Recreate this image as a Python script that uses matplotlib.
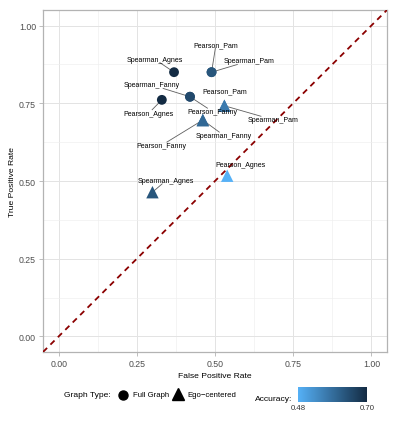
import numpy as np
import matplotlib
matplotlib.use("Agg")
import matplotlib.pyplot as plt
from matplotlib.colors import LinearSegmentedColormap, Normalize
from matplotlib.lines import Line2D

plt.rcParams['font.family'] = ['Liberation Sans', 'DejaVu Sans']

# data
methods = ["Pearson_Agnes", "Spearman_Agnes", "Pearson_Fanny",
           "Spearman_Fanny", "Pearson_Pam", "Spearman_Pam"] * 2
graph_type = ["Full Graph"] * 6 + ["Ego-centered"] * 6
fpr = [0.330, 0.369, 0.420, 0.420, 0.489, 0.489,
       0.539, 0.300, 0.461, 0.461, 0.530, 0.530]
tpr = [0.761, 0.850, 0.771, 0.771, 0.850, 0.850,
       0.517, 0.464, 0.696, 0.696, 0.742, 0.742]
accuracy = [0.70, 0.70, 0.65, 0.65, 0.63, 0.63,
            0.48, 0.63, 0.60, 0.60, 0.57, 0.57]

# where the repelled labels ended up (data coords)
label_x = [0.288, 0.307, 0.493, 0.298, 0.503, 0.609,
           0.583, 0.344, 0.328, 0.529, 0.532, 0.686]
label_y = [0.718, 0.892, 0.723, 0.809, 0.939, 0.886,
           0.552, 0.502, 0.614, 0.646, 0.790, 0.697]

ticks = [0.0, 0.25, 0.5, 0.75, 1.0]
tick_labels = ["0.00", "0.25", "0.50", "0.75", "1.00"]
acc_breaks = [0.48, 0.70]

W, H = 399, 427
fig = plt.figure(figsize=(W / 100, H / 100), dpi=100)
ax = fig.add_axes([43 / W, 1 - 353 / H, 344 / W, 342 / H])

cmap = LinearSegmentedColormap.from_list("acc", ["#56B1F7", "#132B43"])
norm = Normalize(vmin=min(acc_breaks), vmax=max(acc_breaks))

# theme_light look
ax.set_xlim(-0.05, 1.05)
ax.set_ylim(-0.05, 1.05)
ax.set_xticks(ticks)
ax.set_xticklabels(tick_labels)
ax.set_yticks(ticks)
ax.set_yticklabels(tick_labels)
minor = [0.125, 0.375, 0.625, 0.875]
ax.set_xticks(minor, minor=True)
ax.set_yticks(minor, minor=True)
ax.grid(which="major", color="#e3e3e3", lw=0.7)
ax.grid(which="minor", color="#efefef", lw=0.45)
ax.tick_params(which="minor", length=0)
ax.tick_params(which="major", length=3, width=0.6, color="#b3b3b3",
               labelsize=6.3, labelcolor="#4d4d4d", pad=2)
ax.set_axisbelow(True)
for s in ax.spines.values():
    s.set_color("#b3b3b3")
    s.set_linewidth(0.9)
ax.set_xlabel("False Positive Rate", fontsize=6.1, labelpad=3)
ax.set_ylabel("True Positive Rate", fontsize=6.1, labelpad=2)

# diagonal reference line
ax.plot([-0.05, 1.05], [-0.05, 1.05], color="#8B0000", lw=1.3,
        dashes=(3.2, 2.6), zorder=4)

# points
for gt, marker, size in [("Full Graph", "o", 50), ("Ego-centered", "^", 80)]:
    idx = [i for i, g in enumerate(graph_type) if g == gt]
    ax.scatter([fpr[i] for i in idx], [tpr[i] for i in idx],
               c=[accuracy[i] for i in idx], cmap=cmap, norm=norm,
               marker=marker, s=size, linewidths=0, zorder=5)

# labels + segments
texts = []
for i, m in enumerate(methods):
    t = ax.text(label_x[i], label_y[i], m, fontsize=5, ha="center",
                va="center", color="black", zorder=6)
    texts.append(t)

fig.canvas.draw()
r = fig.canvas.get_renderer()
inv = ax.transData.inverted()
for i, t in enumerate(texts):
    bb = t.get_window_extent(r).expanded(1.0, 1.0)
    px, py = ax.transData.transform((fpr[i], tpr[i]))
    cx, cy = (bb.x0 + bb.x1) / 2, (bb.y0 + bb.y1) / 2
    dx, dy = px - cx, py - cy
    # clip the center->point line at the box edge
    sx = (bb.width / 2) / abs(dx) if dx != 0 else np.inf
    sy = (bb.height / 2) / abs(dy) if dy != 0 else np.inf
    f = min(sx, sy)
    if f >= 1:
        continue
    ex, ey = cx + dx * f, cy + dy * f
    if np.hypot(px - ex, py - ey) < 12:
        continue
    p0 = inv.transform((ex, ey))
    ax.plot([p0[0], fpr[i]], [p0[1], tpr[i]], color="#5e5e5e", lw=0.6,
            zorder=3)

# legend: graph type
ly = 1 - 396 / H
fig.text(64 / W, ly, "Graph Type:", fontsize=6.1, va="center", ha="left")
fig.add_artist(Line2D([123 / W], [ly], marker="o", markersize=6.5,
                      color="black", transform=fig.transFigure, lw=0))
fig.text(133 / W, ly, "Full Graph", fontsize=5.6, va="center", ha="left")
fig.add_artist(Line2D([178 / W], [ly + 0.002], marker="^", markersize=8,
                      color="black", transform=fig.transFigure, lw=0))
fig.text(187 / W, ly, "Ego\u2212centered", fontsize=5.6, va="center",
         ha="left")

# legend: accuracy colorbar
fig.text(255 / W, 1 - 400 / H, "Accuracy:", fontsize=6.1, va="center",
         ha="left")
cax = fig.add_axes([298 / W, 1 - 402.7 / H, 69 / W, 14.4 / H])
grad = np.linspace(norm.vmin, norm.vmax, 256).reshape(1, -1)
cax.imshow(grad, aspect="auto", cmap=cmap, norm=norm,
           extent=[norm.vmin, norm.vmax, 0, 1])
cax.set_xlim(norm.vmin, norm.vmax)
cax.set_yticks([])
cax.set_xticks(acc_breaks)
cax.set_xticklabels([f"{b:.2f}" for b in acc_breaks])
cax.tick_params(axis="x", length=0, labelsize=5.6, labelcolor="#333333",
                pad=2)
for s in cax.spines.values():
    s.set_visible(False)

fig.savefig("out.png", dpi=100)
